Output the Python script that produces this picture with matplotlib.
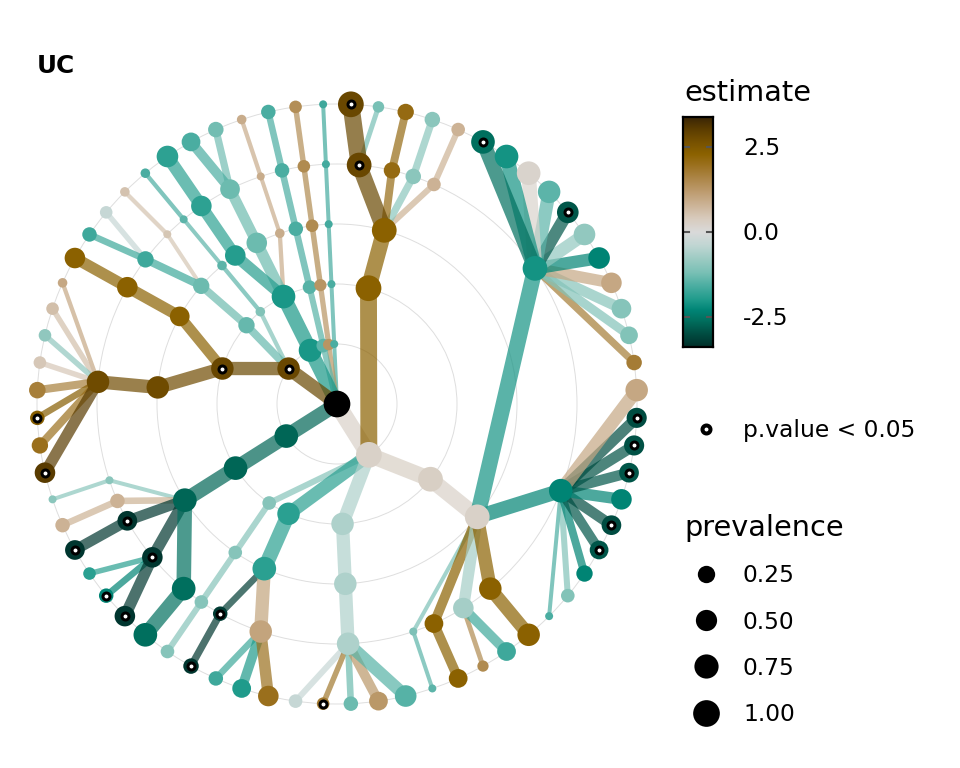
import numpy as np
import matplotlib.pyplot as plt
from matplotlib.colors import LinearSegmentedColormap, Normalize
from matplotlib.patches import Circle

# tree nodes, depth-first, leaves in counter-clockwise order
node = [
    "root",
    "A", "A1", "A1a", "A1a1", "t44",
    "A2", "A2a", "A2a1", "t45", "A2a2", "t46", "t47", "t48",
    "A3", "A3a", "A3a1", "t49", "t50", "t51", "t52", "t53",
    "A4", "A4a", "A4a1", "t54", "A4a2", "t55", "A4a3", "t56", "t57", "A4a4", "t58",
    "A4a5", "t59", "t60", "t61", "t62", "t63", "t64", "t65", "t66", "t67", "t00",
    "A4a6", "t01", "t02", "t03", "t04", "t05", "t06", "t07", "t08", "t09", "t10", "t11",
    "A5", "A5a", "A5a1", "t12", "A5a2", "t13", "A5a3", "t14", "A5a4", "t15", "t16",
    "G", "G1", "G1a", "G1a1", "t17",
    "F", "F1", "F1a", "F1a1", "t18",
    "E", "E1", "E1a", "E1a1", "t19",
    "D", "D1", "D1a", "D1a1", "t20", "D1b", "D1b1", "t21", "t22", "D1c", "D1c1", "t23",
    "C", "C1", "C1a", "C1a1", "t24", "C2", "C2a", "C2a1", "t25", "C2a2", "t26", "t27",
    "C3", "C3a", "C3a1", "t28", "C3b", "C3b1", "t29", "t30", "t31", "t32", "t33", "t34", "t35", "t36",
    "B", "B1", "B1a", "B1a1", "t37", "B1a2", "t38", "B1a3", "t39", "B1a4", "t40", "t41", "t42", "B1a5", "t43",
]

parent = [
    "",
    "root", "A", "A1", "A1a", "A1a1",
    "A", "A2", "A2a", "A2a1", "A2a", "A2a2", "A2a2", "A2a2",
    "A", "A3", "A3a", "A3a1", "A3a1", "A3a1", "A3a1", "A3a1",
    "A", "A4", "A4a", "A4a1", "A4a", "A4a2", "A4a", "A4a3", "A4a3", "A4a", "A4a4",
    "A4a", "A4a5", "A4a5", "A4a5", "A4a5", "A4a5", "A4a5", "A4a5", "A4a5", "A4a5", "A4a5",
    "A4a", "A4a6", "A4a6", "A4a6", "A4a6", "A4a6", "A4a6", "A4a6", "A4a6", "A4a6", "A4a6", "A4a6",
    "A", "A5", "A5a", "A5a1", "A5a", "A5a2", "A5a", "A5a3", "A5a", "A5a4", "A5a4",
    "root", "G", "G1", "G1a", "G1a1",
    "root", "F", "F1", "F1a", "F1a1",
    "root", "E", "E1", "E1a", "E1a1",
    "root", "D", "D1", "D1a", "D1a1", "D1", "D1b", "D1b1", "D1b1", "D1", "D1c", "D1c1",
    "root", "C", "C1", "C1a", "C1a1", "C", "C2", "C2a", "C2a1", "C2a", "C2a2", "C2a2",
    "C", "C3", "C3a", "C3a1", "C3", "C3b", "C3b1", "C3b1", "C3b1", "C3b1", "C3b1", "C3b1", "C3b1", "C3b1",
    "root", "B", "B1", "B1a", "B1a1", "B1a", "B1a2", "B1a", "B1a3", "B1a", "B1a4", "B1a4", "B1a4", "B1a", "B1a5",
]

estimate = [
    np.nan,
    0.25, -1.05, -1.05, -1.05, -1.05,
    -1.9, -1.9, -3.2, -3.3, 1.05, -1.7, -2.0, 2.0,
    -0.6, -0.6, -0.6, -0.3, 1.8, -1.3, 1.25, -1.5,
    0.3, 0.25, -1.15, -1.45, 2.3, 2.3, -0.7, 1.5, -1.7, 2.3, 2.3,
    -2.3, -1.6, -1.1, -2.3, -2.9, -3.0, -2.3, -2.9, -2.95, -3.0, 1.0,
    -2.1, 1.75, -1.1, -1.05, 1.0, -2.3, -0.9, -2.9, -1.45, 0.2, -2.1, -2.6,
    2.3, 2.3, 0.8, 0.8, -1.0, -1.0, 2.1, 2.1, 2.85, -1.2, 2.85,
    -1.6, -1.6, -1.65, -1.65, -1.7,
    1.3, 1.3, 1.5, 1.5, 1.45,
    -1.45, -1.5, -1.6, -1.6, -1.6,
    -2.05, -2.05, 0.9, 0.9, 0.9, -1.3, -1.3, -1.25, -1.6, -1.95, -1.85, -1.85,
    2.85, -1.1, -1.45, -1.45, -1.6, -1.35, -1.3, 0.5, 0.55, -1.7, -0.3, -1.7,
    2.85, 2.3, 2.3, 2.3, 2.75, 2.75, 1.0, 0.6, -0.95, 0.45, 1.7, 2.4, 2.0, 3.05,
    -2.7, -2.7, -2.7, -1.0, -1.0, 0.8, 0.8, -3.3, -3.3, -3.3, -1.9, -2.3, -3.3, -2.6, -2.6,
]

prevalence = [
    1.0,
    0.9, 0.09, 0.09, 0.09, 0.09,
    0.6, 0.7, 0.12, 0.16, 0.6, 0.12, 0.33, 0.45,
    0.6, 0.6, 0.6, 0.09, 0.06, 0.12, 0.33, 0.53,
    0.8, 0.8, 0.0, 0.0, 0.33, 0.33, 0.45, 0.03, 0.33, 0.6, 0.6,
    0.7, 0.0, 0.09, 0.2, 0.33, 0.39, 0.45, 0.39, 0.42, 0.42, 0.6,
    0.8, 0.16, 0.27, 0.39, 0.45, 0.53, 0.53, 0.53, 0.6, 0.7, 0.7, 0.7,
    0.9, 0.8, 0.09, 0.09, 0.16, 0.16, 0.2, 0.2, 0.8, 0.035, 0.9,
    0.0, 0.0, 0.0, 0.0, 0.0,
    0.035, 0.05, 0.06, 0.06, 0.06,
    0.09, 0.09, 0.12, 0.12, 0.12,
    0.65, 0.7, 0.007, 0.0, 0.007, 0.45, 0.39, 0.16, 0.33, 0.45, 0.45, 0.53,
    0.6, 0.007, 0.007, 0.0, 0.007, 0.2, 0.2, 0.0, 0.007, 0.2, 0.06, 0.12,
    0.6, 0.39, 0.45, 0.45, 0.6, 0.6, 0.007, 0.06, 0.06, 0.06, 0.21, 0.12, 0.2, 0.45,
    0.7, 0.7, 0.7, 0.0, 0.0, 0.12, 0.12, 0.39, 0.39, 0.45, 0.06, 0.12, 0.45, 0.7, 0.7,
]

significant = ["A2a1", "t45", "t50", "t62", "t63", "t65", "t66", "t67", "t07", "t11",
               "A5a4", "t16", "C", "C3", "t34", "t36", "B1a3", "t39", "B1a4", "t41", "t42"]

legend_prev = [0.25, 0.50, 0.75, 1.00]
bar_ticks = [2.5, 0.0, -2.5]
lim = 3.38

# green-brown diverging palette
pal_vals = [-3.38, -3.0, -2.6, -2.3, -2.0, -1.6, -1.2, -0.8, -0.4, 0.0,
            0.4, 0.8, 1.2, 1.6, 2.0, 2.3, 2.7, 3.05, 3.38]
pal_cols = ["#00302a", "#004d42", "#00705f", "#008576", "#1f9b8b", "#4aada1", "#79c0b5",
            "#9ccbc3", "#c0d6d3", "#dadada", "#d8cbbd", "#ccb396", "#bd9b6e", "#ac8546",
            "#9a6f1c", "#8c6200", "#744f00", "#5a3c00", "#3a2606"]
cmap = LinearSegmentedColormap.from_list(
    "GnBr", list(zip([(v + lim) / (2 * lim) for v in pal_vals], pal_cols)))
norm = Normalize(-lim, lim)

# layout: depth = radius, leaves evenly spaced, inner nodes at mean angle of children
n = len(node)
assert len(parent) == n and len(estimate) == n and len(prevalence) == n
idx = {nm: i for i, nm in enumerate(node)}
par = [idx[p] if p else -1 for p in parent]
children = [[] for _ in range(n)]
for i, p in enumerate(par):
    if p >= 0:
        children[p].append(i)
depth = np.zeros(n)
for i in range(n):
    if par[i] >= 0:
        depth[i] = depth[par[i]] + 1

n_leaves = sum(1 for c in children if not c)
step = 360.0 / n_leaves
start_angle = -23.5 * step
theta = np.zeros(n)
k = 0
for i in range(n):
    if not children[i]:
        theta[i] = start_angle + k * step
        k += 1
for i in reversed(range(n)):
    if children[i]:
        theta[i] = np.mean([theta[c] for c in children[i]])

xs = depth * np.cos(np.radians(theta))
ys = depth * np.sin(np.radians(theta))

PX = 0.72  # points per pixel at dpi 100


def node_diam(p):
    return (8.0 + 18.7 * np.sqrt(p)) * PX


def edge_width(p):
    return (4.0 + 14 * p ** 0.8) * PX


def colour(e):
    if np.isnan(e):
        return "black"
    return cmap(norm(e))


fig = plt.figure(figsize=(9.6, 7.68), dpi=100)
ax = fig.add_axes([1 / 960, 28 / 768, 672 / 960, 672 / 768])
ax.set_xlim(-5.6, 5.6)
ax.set_ylim(-5.6, 5.6)
ax.axis("off")

for r in range(1, 6):
    ax.add_patch(Circle((0, 0), r, fill=False, ec="#dedede", lw=0.7, zorder=0))

for i in range(n):
    p = par[i]
    if p < 0:
        continue
    ax.plot([xs[p], xs[i]], [ys[p], ys[i]], color=colour(estimate[i]), alpha=0.7,
            lw=edge_width(prevalence[i]), solid_capstyle="butt", zorder=1)

order = list(reversed(range(n)))
ax.scatter(xs[order], ys[order], s=[node_diam(prevalence[i]) ** 2 for i in order],
           c=[colour(estimate[i]) for i in order], linewidths=0, zorder=2)

sig_i = [idx[s] for s in significant]
ax.scatter(xs[sig_i], ys[sig_i], s=(7 * PX) ** 2, facecolor="white", edgecolor="black",
           linewidths=3 * PX, zorder=3)

# legends, drawn in pixel coordinates
lg = fig.add_axes([0, 0, 1, 1], facecolor="none")
lg.set_xlim(0, 960)
lg.set_ylim(768, 0)
lg.axis("off")

fig.text(37 / 960, 1 - 73 / 768, "UC", fontsize=17.8, fontweight="bold")

lg.text(684, 101, "estimate", fontsize=20.7, va="baseline")
cax = fig.add_axes([683 / 960, 1 - 347 / 768, 30 / 960, 230 / 768])
grad = np.linspace(-lim, lim, 256)[:, None]
cax.imshow(grad, aspect="auto", cmap=cmap, norm=norm, origin="lower", extent=[0, 1, -lim, lim])
cax.set_xlim(0, 1)
cax.set_ylim(-lim, lim)
cax.set_xticks([])
cax.set_yticks([])
for sp in cax.spines.values():
    sp.set_linewidth(1.6)
for t in bar_ticks:
    cax.plot([0, 0.2], [t, t], color="#555555", lw=1.5)
    cax.plot([0.8, 1], [t, t], color="#555555", lw=1.5)
    lg.text(743, 232 - 34 * t + 8.4, f"{t:.1f}", fontsize=16.8, va="baseline")

lg.scatter([706], [429], s=(8 * PX) ** 2, facecolor="white", edgecolor="black", linewidths=4 * PX)
lg.text(743, 437.4, "p.value < 0.05", fontsize=16.8, va="baseline")

lg.text(684, 536, "prevalence", fontsize=20.7, va="baseline")
for j, pv in enumerate(legend_prev):
    yy = 574 + 46.2 * j
    lg.scatter([706], [yy], s=node_diam(pv) ** 2, color="black", linewidths=0)
    lg.text(743, yy + 8.4, f"{pv:.2f}", fontsize=16.8, va="baseline")

fig.savefig("out.png", dpi=100)
